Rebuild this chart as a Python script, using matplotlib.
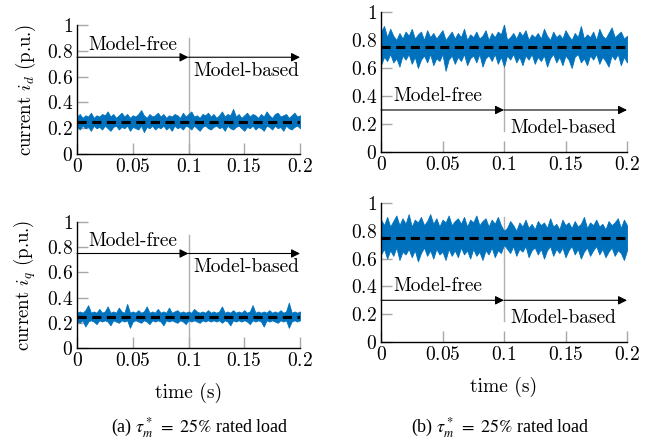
import numpy as np
import matplotlib
matplotlib.use("Agg")
import matplotlib.pyplot as plt
from matplotlib.ticker import FuncFormatter

plt.rcParams["mathtext.fontset"] = "cm"
plt.rcParams["font.family"] = ["cmr10", "DejaVu Serif"]
plt.rcParams["axes.formatter.use_mathtext"] = True

# sampled time base (s) and envelopes of the measured currents (p.u.)
t = np.linspace(0.0, 0.2, 81)
ref_low = 0.25
ref_high = 0.75

id_low_up = [0.29, 0.31, 0.28, 0.30, 0.29, 0.32, 0.28, 0.30, 0.29, 0.31,
             0.30, 0.33, 0.29, 0.31, 0.28, 0.30, 0.32, 0.29, 0.31, 0.28,
             0.30, 0.29, 0.31, 0.34, 0.30, 0.28, 0.31, 0.29, 0.30, 0.32,
             0.29, 0.31, 0.28, 0.30, 0.29, 0.31, 0.30, 0.28, 0.32, 0.29,
             0.31, 0.33, 0.29, 0.30, 0.28, 0.31, 0.30, 0.32, 0.29, 0.31,
             0.28, 0.30, 0.33, 0.29, 0.31, 0.30, 0.35, 0.29, 0.31, 0.28,
             0.30, 0.32, 0.29, 0.31, 0.30, 0.28, 0.31, 0.29, 0.33, 0.30,
             0.28, 0.31, 0.32, 0.29, 0.30, 0.31, 0.28, 0.30, 0.32, 0.29, 0.30]
id_low_lo = [0.21, 0.19, 0.22, 0.20, 0.21, 0.18, 0.22, 0.20, 0.21, 0.19,
             0.22, 0.20, 0.18, 0.21, 0.22, 0.19, 0.21, 0.20, 0.22, 0.18,
             0.21, 0.20, 0.19, 0.22, 0.17, 0.21, 0.20, 0.22, 0.19, 0.21,
             0.20, 0.22, 0.19, 0.21, 0.18, 0.22, 0.20, 0.21, 0.19, 0.22,
             0.21, 0.19, 0.22, 0.20, 0.18, 0.21, 0.22, 0.20, 0.19, 0.21,
             0.22, 0.20, 0.21, 0.18, 0.22, 0.20, 0.19, 0.21, 0.22, 0.20,
             0.18, 0.21, 0.20, 0.22, 0.19, 0.21, 0.20, 0.18, 0.22, 0.21,
             0.19, 0.22, 0.20, 0.21, 0.18, 0.22, 0.20, 0.19, 0.21, 0.22, 0.20]

iq_low_up = [0.28, 0.29, 0.28, 0.30, 0.34, 0.28, 0.29, 0.28, 0.31, 0.28,
             0.29, 0.33, 0.28, 0.29, 0.28, 0.32, 0.29, 0.28, 0.35, 0.28,
             0.29, 0.28, 0.30, 0.28, 0.29, 0.33, 0.28, 0.29, 0.28, 0.31,
             0.28, 0.29, 0.28, 0.32, 0.28, 0.29, 0.30, 0.28, 0.29, 0.28,
             0.29, 0.28, 0.31, 0.29, 0.28, 0.29, 0.28, 0.30, 0.28, 0.29,
             0.28, 0.29, 0.33, 0.28, 0.29, 0.28, 0.30, 0.28, 0.29, 0.28,
             0.30, 0.28, 0.29, 0.34, 0.28, 0.29, 0.28, 0.29, 0.28, 0.30,
             0.28, 0.29, 0.28, 0.30, 0.28, 0.29, 0.36, 0.28, 0.29, 0.28, 0.29]
iq_low_lo = [0.21, 0.20, 0.22, 0.17, 0.21, 0.22, 0.21, 0.19, 0.22, 0.21,
             0.22, 0.21, 0.18, 0.22, 0.21, 0.20, 0.22, 0.21, 0.22, 0.16,
             0.21, 0.22, 0.21, 0.20, 0.22, 0.21, 0.19, 0.22, 0.21, 0.22,
             0.21, 0.18, 0.22, 0.21, 0.22, 0.21, 0.20, 0.22, 0.21, 0.19,
             0.22, 0.21, 0.22, 0.21, 0.20, 0.22, 0.21, 0.22, 0.21, 0.22,
             0.21, 0.22, 0.20, 0.22, 0.21, 0.18, 0.22, 0.21, 0.22, 0.21,
             0.22, 0.21, 0.19, 0.22, 0.21, 0.22, 0.21, 0.17, 0.22, 0.21,
             0.22, 0.21, 0.20, 0.22, 0.21, 0.22, 0.16, 0.21, 0.22, 0.21, 0.22]

id_high_up = [0.86, 0.90, 0.82, 0.88, 0.83, 0.80, 0.85, 0.81, 0.86, 0.83,
              0.88, 0.81, 0.84, 0.86, 0.80, 0.87, 0.82, 0.85, 0.81, 0.84,
              0.87, 0.80, 0.83, 0.86, 0.81, 0.85, 0.82, 0.88, 0.80, 0.84,
              0.82, 0.86, 0.81, 0.83, 0.87, 0.80, 0.85, 0.82, 0.86, 0.84,
              0.91, 0.80, 0.82, 0.85, 0.81, 0.86, 0.83, 0.87, 0.80, 0.84,
              0.82, 0.85, 0.81, 0.88, 0.83, 0.80, 0.86, 0.82, 0.84, 0.81,
              0.87, 0.83, 0.80, 0.85, 0.82, 0.90, 0.81, 0.84, 0.82, 0.86,
              0.80, 0.88, 0.83, 0.81, 0.85, 0.89, 0.82, 0.84, 0.86, 0.81, 0.83]
id_high_lo = [0.62, 0.68, 0.65, 0.70, 0.64, 0.67, 0.61, 0.69, 0.66, 0.70,
              0.63, 0.68, 0.60, 0.66, 0.69, 0.64, 0.70, 0.62, 0.67, 0.65,
              0.70, 0.58, 0.66, 0.69, 0.63, 0.68, 0.65, 0.70, 0.62, 0.67,
              0.69, 0.64, 0.70, 0.61, 0.67, 0.69, 0.65, 0.70, 0.63, 0.68,
              0.61, 0.69, 0.66, 0.70, 0.64, 0.68, 0.62, 0.69, 0.66, 0.70,
              0.63, 0.68, 0.65, 0.69, 0.61, 0.67, 0.70, 0.64, 0.68, 0.62,
              0.69, 0.66, 0.60, 0.68, 0.70, 0.64, 0.67, 0.62, 0.69, 0.66,
              0.70, 0.63, 0.68, 0.65, 0.61, 0.69, 0.66, 0.70, 0.62, 0.68, 0.64]

iq_high_up = [0.88, 0.84, 0.90, 0.83, 0.87, 0.91, 0.84, 0.89, 0.85, 0.92,
              0.83, 0.88, 0.86, 0.90, 0.84, 0.87, 0.92, 0.85, 0.89, 0.83,
              0.88, 0.86, 0.91, 0.84, 0.87, 0.89, 0.85, 0.90, 0.83, 0.88,
              0.86, 0.91, 0.84, 0.87, 0.89, 0.83, 0.88, 0.85, 0.90, 0.84,
              0.80, 0.82, 0.87, 0.84, 0.80, 0.86, 0.83, 0.88, 0.82, 0.85,
              0.81, 0.87, 0.84, 0.86, 0.82, 0.89, 0.83, 0.85, 0.81, 0.88,
              0.84, 0.86, 0.82, 0.87, 0.83, 0.85, 0.90, 0.82, 0.86, 0.84,
              0.88, 0.83, 0.85, 0.81, 0.87, 0.84, 0.86, 0.89, 0.82, 0.88, 0.84]
iq_high_lo = [0.63, 0.67, 0.60, 0.66, 0.62, 0.68, 0.59, 0.65, 0.63, 0.67,
              0.61, 0.66, 0.58, 0.64, 0.68, 0.62, 0.66, 0.60, 0.67, 0.63,
              0.65, 0.59, 0.67, 0.62, 0.66, 0.61, 0.68, 0.63, 0.66, 0.60,
              0.67, 0.62, 0.65, 0.59, 0.66, 0.63, 0.68, 0.61, 0.66, 0.64,
              0.70, 0.67, 0.64, 0.69, 0.62, 0.67, 0.65, 0.69, 0.61, 0.66,
              0.68, 0.63, 0.67, 0.60, 0.66, 0.69, 0.62, 0.67, 0.64, 0.68,
              0.61, 0.66, 0.69, 0.63, 0.67, 0.60, 0.65, 0.68, 0.62, 0.66,
              0.69, 0.63, 0.67, 0.61, 0.65, 0.68, 0.62, 0.66, 0.64, 0.59, 0.66]

t_switch = 0.1
blue = "#0072BD"
tick_gray = "#a8a8a8"

fig = plt.figure(figsize=(6.67, 4.42), dpi=100)
W, H = 667.0, 442.0


def make_axes(x0, x1, y_top, y_bot):
    return fig.add_axes([x0 / W, 1 - y_bot / H, (x1 - x0) / W, (y_bot - y_top) / H])


panels = [
    # axes box (px), upper, lower, reference, arrow y, free text (x,y), based text (x,y), vline bottom, ylabel
    ((77, 300, 25, 154), id_low_up, id_low_lo, ref_low, 0.75, (0.0099, 0.845), (0.104, 0.64), 0.0, r"current $i_d$ (p.u.)", False),
    ((381, 627, 12, 152), id_high_up, id_high_lo, ref_high, 0.30, (0.0098, 0.40), (0.105, 0.17), 0.15, None, False),
    ((77, 300, 222, 348), iq_low_up, iq_low_lo, ref_low, 0.75, (0.0099, 0.845), (0.104, 0.64), 0.0, r"current $i_q$ (p.u.)", True),
    ((381, 627, 203, 342), iq_high_up, iq_high_lo, ref_high, 0.30, (0.0098, 0.40), (0.105, 0.17), 0.15, None, True),
]

fmt = FuncFormatter(lambda v, p: f"${v:g}$")

for box, up, lo, ref, ay, tf, tb, vbot, ylab, bottom in panels:
    ax = make_axes(*box)
    ax.set_xlim(0, 0.2)
    ax.set_ylim(0, 1)
    for s in ["top", "right"]:
        ax.spines[s].set_visible(False)
    for s in ["left", "bottom"]:
        ax.spines[s].set_linewidth(1.0)
        ax.spines[s].set_zorder(6)
    ax.set_xticks([0, 0.05, 0.1, 0.15, 0.2])
    ax.set_yticks([0, 0.2, 0.4, 0.6, 0.8, 1])
    ax.xaxis.set_major_formatter(fmt)
    ax.yaxis.set_major_formatter(fmt)
    ax.tick_params(direction="in", length=8, width=1, color=tick_gray,
                   labelsize=14, pad=3)

    ax.plot([t_switch, t_switch], [vbot, 0.9], color="#b0b0b0", lw=1, zorder=1)
    ax.fill_between(t, lo, up, color=blue, lw=0.6, edgecolor=blue, zorder=2)
    ax.plot([0, 0.2], [ref, ref], color="black", lw=2.2, dashes=(3, 1.8), zorder=3)

    arrow = dict(arrowstyle="-|>", color="black", lw=0.8, mutation_scale=13,
                 shrinkA=0, shrinkB=0)
    ax.annotate("", xy=(t_switch, ay), xytext=(0, ay), arrowprops=arrow, zorder=4)
    ax.annotate("", xy=(0.2, ay), xytext=(t_switch, ay), arrowprops=arrow, zorder=4)
    ax.text(tf[0], tf[1], "Model-free", fontsize=14, ha="left", va="center", zorder=5)
    ax.text(tb[0], tb[1], "Model-based", fontsize=14, ha="left", va="center", zorder=5)

    if ylab:
        ax.set_ylabel(ylab, fontsize=13.5, labelpad=6)
    if bottom:
        ax.set_xlabel("time (s)", fontsize=14, labelpad=9)

cap = dict(fontsize=13, ha="center", va="center",
           family=["Liberation Serif", "DejaVu Serif"], math_fontfamily="stix")
fig.text(200 / W, 1 - 428 / H, r"(a) $\tau_m^* \;=\; 25\%$ rated load", **cap)
fig.text(500 / W, 1 - 428 / H, r"(b) $\tau_m^* \;=\; 25\%$ rated load", **cap)

fig.savefig("out.png", dpi=100)
